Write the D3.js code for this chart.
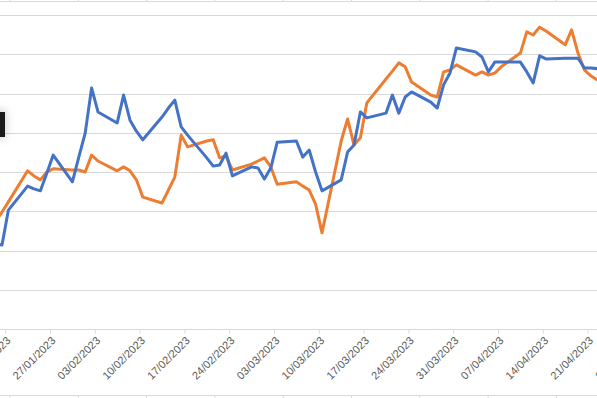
<!DOCTYPE html>
<html>
<head>
<meta charset="utf-8">
<script src="https://cdn.jsdelivr.net/npm/d3@7"></script>
<style>
  html, body { margin: 0; padding: 0; background: #fff; }
  svg { display: block; }
</style>
</head>
<body>
<svg id="chart"></svg>
<script>
// business days shown in the (cropped) chart
const dates = [
  "2023-01-18","2023-01-19","2023-01-20","2023-01-23","2023-01-24","2023-01-25","2023-01-26","2023-01-27",
  "2023-01-30","2023-01-31","2023-02-01","2023-02-02","2023-02-03","2023-02-06","2023-02-07","2023-02-08",
  "2023-02-09","2023-02-10","2023-02-13","2023-02-14","2023-02-15","2023-02-16","2023-02-17","2023-02-20",
  "2023-02-21","2023-02-22","2023-02-23","2023-02-24","2023-02-27","2023-02-28","2023-03-01","2023-03-02",
  "2023-03-03","2023-03-06","2023-03-07","2023-03-08","2023-03-09","2023-03-10","2023-03-13","2023-03-14",
  "2023-03-15","2023-03-16","2023-03-17","2023-03-20","2023-03-21","2023-03-22","2023-03-23","2023-03-24",
  "2023-03-27","2023-03-28","2023-03-29","2023-03-30","2023-03-31","2023-04-03","2023-04-04","2023-04-05",
  "2023-04-06","2023-04-07","2023-04-10","2023-04-11","2023-04-12","2023-04-13","2023-04-14","2023-04-17",
  "2023-04-18","2023-04-19","2023-04-20","2023-04-21","2023-04-24"
];

const blueValues = [
  21.7, 21.4, 30.3, 36.4, 35.7, 35.2, 39.7, 44.3,
  37.5, 43.8, 49.9, 61.4, 55.3, 52.5, 59.6, 53.2,
  50.4, 48.2, 54.0, 56.3, 58.3, 51.5, 49.4, 43.6,
  41.5, 41.8, 44.8, 39.0, 41.3, 41.0, 38.2, 41.0,
  47.6, 47.9, 43.8, 45.6, 40.0, 35.2, 38.0, 45.1,
  46.9, 55.3, 53.8, 55.0, 59.6, 55.0, 59.1, 60.4,
  57.8, 56.3, 62.2, 65.2, 71.6, 70.6, 69.3, 65.5,
  68.0, 68.0, 68.0, 65.5, 62.7, 69.6, 68.8, 69.0,
  69.0, 69.0, 66.5, 66.5, 66.0
];

const orangeValues = [
  27.3, 29.8, 32.4, 40.3, 39.0, 38.0, 40.0, 40.8,
  40.5, 40.5, 40.0, 44.3, 42.8, 40.3, 41.3, 40.3,
  38.0, 33.6, 32.1, 35.4, 38.7, 49.4, 46.4, 47.9,
  48.2, 43.6, 44.1, 40.5, 42.0, 42.8, 43.6, 41.3,
  36.9, 37.5, 36.4, 35.4, 31.8, 24.5, 47.9, 53.5,
  46.9, 48.7, 57.6, 63.7, 65.7, 67.8, 66.8, 62.9,
  59.6, 59.1, 65.5, 66.0, 67.3, 64.7, 65.5, 64.7,
  65.2, 66.8, 70.3, 75.7, 74.9, 76.9, 75.9, 72.4,
  76.2, 70.3, 66.0, 64.5, 61.4
];

// weekly (Friday) category ticks
const tickDates = [
  "2023-01-13","2023-01-20","2023-01-27","2023-02-03","2023-02-10","2023-02-17","2023-02-24",
  "2023-03-03","2023-03-10","2023-03-17","2023-03-24","2023-03-31","2023-04-07","2023-04-14",
  "2023-04-21","2023-04-28"
];

const gridValues = [0, 10, 20, 30, 40, 50, 60, 70, 80];

class CroppedLineChart {

    constructor(svg, width = 597, height = 398) {
        this.svg = d3.select(svg);
        this.width = width;
        this.height = height;
    }

    initialize() {
        const parse = d3.utcParse("%Y-%m-%d");
        this.dates = dates.map(parse);
        this.ticks = tickDates.map(parse);

        this.svg
            .attr("width", this.width)
            .attr("height", this.height)
            .attr("viewBox", `0 0 ${this.width} ${this.height}`);

        this.x = d3.scaleUtc()
            .domain([parse("2023-01-27"), parse("2023-04-21")])
            .range([50, 587.6]);

        this.y = d3.scaleLinear()
            .domain([0, 80])
            .range([329, 15]);

        // excel plots date points between the tick marks (half a day in)
        this.px = d => this.x(d3.utcHour.offset(d, 12));

        this.drawFrame();
        this.drawGrid();
        this.drawAxis();
        this.drawLines();
        this.drawCursorBox();
    }

    drawFrame() {
        const cell = d3.range(10, this.width, 68.3);
        const frame = this.svg.append("g").attr("stroke", "#d9d9d9").attr("stroke-width", 1);
        frame.append("line").attr("x1", 0).attr("x2", this.width).attr("y1", 1.5).attr("y2", 1.5);
        frame.append("line").attr("x1", 0).attr("x2", this.width).attr("y1", 395.5).attr("y2", 395.5);
        frame.selectAll(".top").data(cell).join("line")
            .attr("x1", d => d).attr("x2", d => d).attr("y1", 0).attr("y2", 1.5);
        frame.selectAll(".bot").data(cell).join("line")
            .attr("x1", d => d).attr("x2", d => d).attr("y1", 395.5).attr("y2", 398);
    }

    drawGrid() {
        this.svg.append("g")
            .selectAll("line")
            .data(gridValues.slice(1))
            .join("line")
            .attr("x1", 0)
            .attr("x2", this.width)
            .attr("y1", d => Math.round(this.y(d)) + 0.5)
            .attr("y2", d => Math.round(this.y(d)) + 0.5)
            .attr("stroke", "#d9d9d9")
            .attr("stroke-width", 1);
    }

    drawAxis() {
        const axisY = Math.round(this.y(0)) + 0.5;
        const axis = this.svg.append("g")
            .attr("transform", `translate(0,${axisY})`)
            .call(d3.axisBottom(this.x)
                .tickValues(this.ticks)
                .tickSize(4)
                .tickSizeOuter(0)
                .tickFormat(d3.utcFormat("%d/%m/%Y")));

        axis.select(".domain").remove();
        axis.append("line")
            .attr("x1", 0).attr("x2", this.width)
            .attr("stroke", "#d9d9d9");
        axis.selectAll(".tick line").attr("stroke", "#d9d9d9");
        axis.selectAll(".tick text")
            .attr("x", 0)
            .attr("y", 0)
            .attr("dy", "0.35em")
            .attr("transform", "translate(3,9) rotate(-45)")
            .style("text-anchor", "end")
            .attr("fill", "#595959")
            .attr("font-family", "'Liberation Sans', Arial, sans-serif")
            .attr("font-size", "11px");
    }

    drawLines() {
        const series = [
            { values: orangeValues, color: "#ED7D31" },
            { values: blueValues, color: "#4472C4" }
        ];
        const line = d3.line()
            .x((d, i) => this.px(this.dates[i]))
            .y(d => this.y(d));

        this.svg.append("g")
            .selectAll("path")
            .data(series)
            .join("path")
            .attr("d", s => line(s.values))
            .attr("fill", "none")
            .attr("stroke", s => s.color)
            .attr("stroke-width", 3)
            .attr("stroke-linejoin", "round")
            .attr("stroke-linecap", "round");
    }

    drawCursorBox() {
        // dark box poking in from the left edge, with a soft shadow
        const defs = this.svg.append("defs");
        const f = defs.append("filter").attr("id", "shadow")
            .attr("x", "-200%").attr("y", "-100%").attr("width", "500%").attr("height", "300%");
        f.append("feGaussianBlur").attr("stdDeviation", 5);
        this.svg.append("rect")
            .attr("x", -10).attr("y", 110).attr("width", 16).attr("height", 28)
            .attr("fill", "#000").attr("opacity", 0.18).attr("filter", "url(#shadow)");
        this.svg.append("rect")
            .attr("x", -5).attr("y", 112).attr("width", 10).attr("height", 25)
            .attr("fill", "#1b1b1b");
    }
}

const chart = new CroppedLineChart(document.getElementById("chart"));
chart.initialize();
</script>
</body>
</html>
